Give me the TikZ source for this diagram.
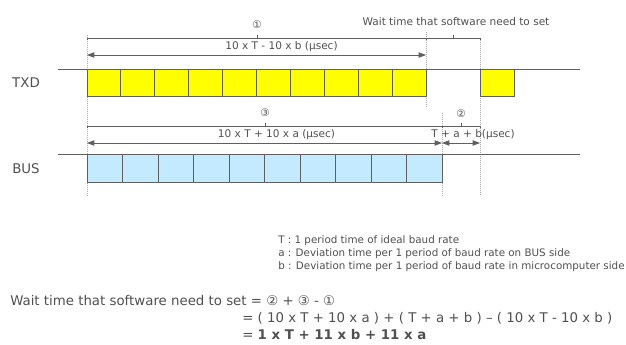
\documentclass[tikz,border=0pt]{standalone}
\usepackage{fontspec}
\setmainfont{DejaVu Sans}
\usetikzlibrary{arrows.meta}
\definecolor{txt}{HTML}{505050}
\definecolor{ln}{HTML}{5F5F5F}
\definecolor{dotc}{HTML}{A8A8A8}
\definecolor{yel}{HTML}{FFFF00}
\definecolor{lblue}{HTML}{C4EAFF}
\tikzset{
  sig/.style={draw=ln, line width=0.7pt},
  tbit/.style={draw=ln, line width=0.7pt, fill=yel},
  bbit/.style={draw=ln, line width=0.7pt, fill=lblue},
  brk/.style={draw=ln, line width=0.6pt},
  dimarrow/.style={draw=ln, line width=0.6pt, {Triangle[length=5.5pt,width=4pt]}-{Triangle[length=5.5pt,width=4pt]}},
  vguide/.style={draw=dotc, line width=0.5pt, densely dotted},
  lbl/.style={text=txt, inner sep=0pt, font=\fontsize{7.9pt}{9pt}\selectfont},
  signame/.style={text=txt, inner sep=0pt, font=\fontsize{10pt}{12pt}\selectfont},
  leg/.style={text=txt, inner sep=0pt, anchor=base west, font=\fontsize{7.75pt}{9pt}\selectfont},
  frm/.style={text=txt, inner sep=0pt, anchor=base west, font=\fontsize{10pt}{12pt}\selectfont}
}
\begin{document}
\begin{tikzpicture}[x=0.75pt,y=-0.75pt]
\useasboundingbox (0,0) rectangle (626,344);

% key coordinates
\coordinate (t0) at (87,55);
\coordinate (t1) at (426,55);
\coordinate (b0) at (87,143);
\coordinate (b1) at (442,143);
\coordinate (b2) at (480,143);

% dotted guides
\draw[vguide] (87,35) -- (87,196);
\draw[vguide] (426,32) -- (426,107);
\draw[vguide] (480,38) -- (480,196);
\draw[vguide] (442,113) -- (442,196);

% signal names
\node[signame] (txd) at (26,83) {TXD};
\node[signame] (bus) at (26,169) {BUS};

% TXD line and bits
\draw[sig] (58,69) -- (87,69);
\draw[sig] (426,69) -- (580,69);
\foreach \i in {0,...,9}
  \draw[tbit] ({87+33.9*\i},69) rectangle ++(33.9,27);
\draw[tbit] (480,69) rectangle (514,96);

% BUS line and bits
\draw[sig] (58,154) -- (87,154);
\draw[sig] (442,154) -- (580,154);
\foreach \i in {0,...,9}
  \draw[bbit] ({87+35.5*\i},154) rectangle ++(35.5,28);

% bracket 1 and wait-time bracket
\draw[brk] (87,40) -- (87,38) -- (426,38) -- (426,40);
\draw[brk] (257,38) -- (257,34.5);
\draw[brk] (426,38) -- (480,38) -- (480,40);
\draw[brk] (453,38) -- (453,34.5);
\node[lbl] (n1) at (257,25) {①};
\node[lbl] (wlab) at (456,22) {Wait time that software need to set};

% TXD dimension arrow
\draw[dimarrow] (t0) -- (t1);
\node[lbl] (tdim) at (281.5,46.5) {10 x T - 10 x b (μsec)};

% brackets 3 and 2
\draw[brk] (87,128) -- (87,126) -- (442,126) -- (442,128);
\draw[brk] (265,126) -- (265,122.5);
\draw[brk] (442,126) -- (480,126) -- (480,128);
\draw[brk] (461,126) -- (461,122.5);
\node[lbl] (n3) at (265,113) {③};
\node[lbl] (n2) at (461,114) {②};

% BUS dimension arrows
\draw[dimarrow] (b0) -- (b1);
\draw[dimarrow] (b1) -- (b2);
\node[lbl] (bdim) at (276.5,135) {10 x T + 10 x a (μsec)};
\node[lbl] (wdim) at (473,135) {T + a + b(μsec)};

% legend
\node[leg] (l1) at (278,243.5) {T : 1 period time of ideal baud rate};
\node[leg] (l2) at (278,256.5) {a : Deviation time per 1 period of baud rate on BUS side};
\node[leg] (l3) at (278,269.5) {b : Deviation time per 1 period of baud rate in microcomputer side};

% formula
\node[frm] (f1) at (10,305) {Wait time that software need to set = ② + ③ - ①};
\node[frm] (f2) at (242,322) {= ( 10 x T + 10 x a ) + ( T + a + b ) – ( 10 x T - 10 x b )};
\node[frm] (f3) at (242,339) {= \textbf{1 x T + 11 x b + 11 x a}};
\end{tikzpicture}
\end{document}
